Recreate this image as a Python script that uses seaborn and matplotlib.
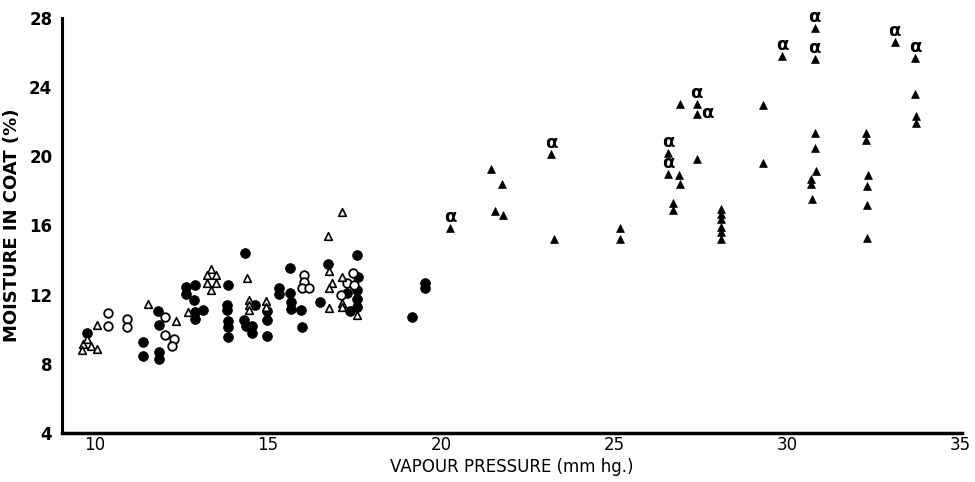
import pandas as pd
import matplotlib
matplotlib.use("Agg")
import matplotlib.pyplot as plt
import seaborn as sns

# filled circles
fc_x = [9.76, 11.38, 11.38, 11.82, 11.84, 11.86, 11.86, 12.63, 12.90, 12.63, 12.87, 12.90, 12.90, 13.13,
        13.85, 13.83, 13.83, 13.85, 13.85, 13.85, 14.33, 14.62, 14.31, 14.36, 14.53, 14.55,
        14.96, 14.96, 14.96, 15.32, 15.32, 15.65, 15.63, 15.67, 15.67, 15.99, 15.96, 16.50, 16.74,
        17.56, 17.60, 17.56, 17.58, 17.58, 17.29, 17.36, 19.16, 19.53, 19.53]
fc_y = [9.77, 9.28, 8.45, 11.07, 10.25, 8.67, 8.26, 12.46, 12.55, 12.04, 11.69, 11.02, 10.59, 11.11,
        12.56, 11.40, 11.11, 10.50, 10.11, 9.57, 14.43, 11.40, 10.54, 10.19, 10.19, 9.77,
        11.06, 10.54, 9.61, 12.37, 12.04, 13.52, 12.11, 11.59, 11.17, 10.11, 11.11, 11.56, 13.80,
        14.30, 13.00, 12.27, 11.73, 11.30, 12.08, 11.07, 10.73, 12.69, 12.37]

# open circles
oc_x = [10.37, 10.37, 10.94, 10.94, 12.03, 12.03, 12.29, 12.24,
        16.04, 16.04, 15.97, 16.18, 17.45, 17.29, 17.48, 17.10]
oc_y = [10.92, 10.19, 10.59, 10.11, 10.73, 9.67, 9.44, 9.05,
        13.14, 12.75, 12.40, 12.40, 13.23, 12.66, 12.56, 11.98]

# open triangles
ot_x = [9.65, 9.63, 9.89, 10.05, 9.76, 10.06, 11.54, 12.34, 12.70,
        13.35, 13.25, 13.49, 13.25, 13.49, 13.35, 14.40, 14.45, 14.45, 14.45, 14.93, 14.93,
        16.76, 16.86, 16.76, 16.76, 17.14, 17.14, 17.14, 17.58, 17.14, 16.73]
ot_y = [9.15, 8.80, 9.03, 8.84, 9.45, 10.25, 11.44, 10.48, 11.02,
        13.47, 13.14, 13.14, 12.66, 12.66, 12.27, 12.98, 11.69, 11.40, 11.11, 11.65, 11.30,
        13.39, 12.69, 12.40, 11.21, 13.04, 11.54, 11.30, 10.82, 16.78, 15.39]

# filled triangles, alpha mark: "up", "right" or ""
ft_x = [20.26, 21.45, 21.76, 21.55, 21.78, 23.18, 23.26, 25.17, 25.17,
        26.56, 26.56, 26.87, 26.89, 26.71, 26.71, 26.90, 27.38, 27.38, 27.38,
        28.10, 28.10, 28.10, 28.10, 28.10, 28.10, 29.30, 29.30, 29.85,
        30.79, 30.79, 30.81, 30.81, 30.82, 30.69, 30.69, 30.71,
        32.28, 32.28, 32.33, 32.30, 32.30, 32.30, 33.10, 33.70, 33.69, 33.72, 33.72]
ft_y = [15.87, 19.27, 18.38, 16.84, 16.61, 20.12, 15.20, 15.87, 15.20,
        20.18, 18.98, 18.92, 18.38, 17.28, 16.90, 23.03, 23.03, 22.45, 19.83,
        16.94, 16.67, 16.36, 15.93, 15.64, 15.20, 22.97, 19.60, 25.82,
        27.40, 25.63, 21.37, 20.47, 19.15, 18.67, 18.40, 17.53,
        21.37, 20.95, 18.92, 18.29, 17.19, 15.26, 26.63, 25.67, 23.59, 22.33, 21.91]
ft_alpha = ["up", "", "", "", "", "up", "", "", "",
            "up", "up", "", "", "", "", "", "up", "right", "",
            "", "", "", "", "", "", "", "", "up",
            "up", "up", "", "", "", "", "", "",
            "", "", "", "", "", "", "up", "up", "", "", ""]

x_ticks = [10, 15, 20, 25, 30, 35]
y_ticks = [4, 8, 12, 16, 20, 24, 28]

sns.set_style("white")
plt.rcParams["font.family"] = ["DejaVu Sans"]
plt.rcParams["text.color"] = "black"
plt.rcParams["axes.labelcolor"] = "black"

fig = plt.figure(figsize=(9.75, 4.82), dpi=100)
ax = fig.add_axes([0.0636, 0.1017, 0.9231, 0.861])

fc = pd.DataFrame({"vp": fc_x, "moist": fc_y})
oc = pd.DataFrame({"vp": oc_x, "moist": oc_y})
ot = pd.DataFrame({"vp": ot_x, "moist": ot_y})
ft = pd.DataFrame({"vp": ft_x, "moist": ft_y, "alpha": ft_alpha})

sns.scatterplot(data=fc, x="vp", y="moist", marker="o", s=50, color="black",
                edgecolor="black", linewidth=0.5, ax=ax)
sns.scatterplot(data=oc, x="vp", y="moist", marker="o", s=38, facecolor="white",
                edgecolor="black", linewidth=1.3, ax=ax)
sns.scatterplot(data=ot, x="vp", y="moist", marker="^", s=30, facecolor="white",
                edgecolor="black", linewidth=1.2, ax=ax)
sns.scatterplot(data=ft, x="vp", y="moist", marker="^", s=32, color="black",
                edgecolor="black", linewidth=0.5, ax=ax)

for _, row in ft[ft["alpha"] != ""].iterrows():
    off = (0, 8) if row["alpha"] == "up" else (8, 1)
    ax.annotate("α", xy=(row["vp"], row["moist"]), xytext=off, textcoords="offset points",
                ha="center", va="center",
                fontsize=13, fontweight="bold", color="black", annotation_clip=False)

ax.set_xlim(9.05, 35.05)
ax.set_ylim(4, 28)
ax.set_xticks(x_ticks)
ax.set_yticks(y_ticks)
ax.set_xticklabels([str(t) for t in x_ticks], fontsize=12)
ax.set_yticklabels([str(t) for t in y_ticks], fontsize=12, fontweight="bold")
ax.tick_params(axis="x", direction="in", length=6, width=1.5, pad=2, colors="black")
ax.tick_params(axis="y", direction="inout", length=8, width=1.5, pad=3, colors="black")

for side in ["top", "right"]:
    ax.spines[side].set_visible(False)
ax.spines["left"].set_linewidth(2.2)
ax.spines["bottom"].set_linewidth(2.5)
ax.spines["left"].set_color("black")
ax.spines["bottom"].set_color("black")

ax.set_xlabel("VAPOUR PRESSURE (mm hg.)", fontsize=12, labelpad=3, color="black")
ax.set_ylabel("MOISTURE IN COAT (%)", fontsize=13, fontweight="bold", labelpad=6, color="black")

fig.savefig("out.png", dpi=100)
